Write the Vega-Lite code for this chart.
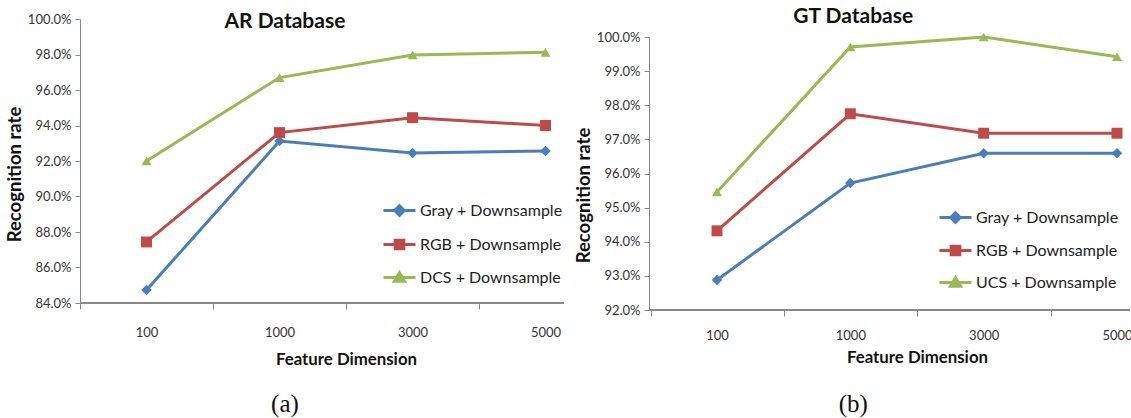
{
  "$schema": "https://vega.github.io/schema/vega-lite/v6.json",
  "padding": {"left": 5, "top": 6, "right": 0, "bottom": 0},
  "background": "white",
  "config": {
    "view": {"stroke": null},
    "font": "Lato",
    "axis": {"labelFont": "Lato", "labelFontSize": 13, "labelColor": "#333333", "titleFont": "Lato", "titleFontWeight": "bold", "titleFontSize": 16.8, "titleColor": "#111111", "domainColor": "#888888", "tickColor": "#888888", "grid": false, "labelOverlap": false},
    "axisY": {"titleFontSize": 18.5}
  },
  "datasets": {
    "ar": [
      {"dim": "100", "series": "Gray + Downsample", "rate": 0.8473},
      {"dim": "1000", "series": "Gray + Downsample", "rate": 0.9312},
      {"dim": "3000", "series": "Gray + Downsample", "rate": 0.9245},
      {"dim": "5000", "series": "Gray + Downsample", "rate": 0.9256},
      {"dim": "100", "series": "RGB + Downsample", "rate": 0.8744},
      {"dim": "1000", "series": "RGB + Downsample", "rate": 0.9360},
      {"dim": "3000", "series": "RGB + Downsample", "rate": 0.9444},
      {"dim": "5000", "series": "RGB + Downsample", "rate": 0.9400},
      {"dim": "100", "series": "DCS + Downsample", "rate": 0.9200},
      {"dim": "1000", "series": "DCS + Downsample", "rate": 0.9670},
      {"dim": "3000", "series": "DCS + Downsample", "rate": 0.9797},
      {"dim": "5000", "series": "DCS + Downsample", "rate": 0.9812}
    ],
    "gt": [
      {"dim": "100", "series": "Gray + Downsample", "rate": 0.9288},
      {"dim": "1000", "series": "Gray + Downsample", "rate": 0.9572},
      {"dim": "3000", "series": "Gray + Downsample", "rate": 0.9659},
      {"dim": "5000", "series": "Gray + Downsample", "rate": 0.9659},
      {"dim": "100", "series": "RGB + Downsample", "rate": 0.9432},
      {"dim": "1000", "series": "RGB + Downsample", "rate": 0.9775},
      {"dim": "3000", "series": "RGB + Downsample", "rate": 0.9718},
      {"dim": "5000", "series": "RGB + Downsample", "rate": 0.9718},
      {"dim": "100", "series": "UCS + Downsample", "rate": 0.9546},
      {"dim": "1000", "series": "UCS + Downsample", "rate": 0.9971},
      {"dim": "3000", "series": "UCS + Downsample", "rate": 1.0},
      {"dim": "5000", "series": "UCS + Downsample", "rate": 0.9942}
    ]
  },
  "resolve": {"scale": {"color": "independent"}, "legend": {"color": "independent"}},
  "spacing": 9,
  "hconcat": [
    {
      "title": {"text": "(a)", "orient": "bottom", "font": "Liberation Serif", "fontSize": 25, "fontWeight": "normal", "color": "#111111", "offset": 24, "anchor": "middle", "frame": "bounds"},
      "vconcat": [
        {
          "title": {"text": "AR Database", "font": "Lato", "fontSize": 21, "fontWeight": "bold", "color": "#111111", "anchor": "middle", "frame": "bounds", "offset": -19},
          "width": 484,
          "height": 284,
          "data": {"name": "ar"},
          "encoding": {
            "x": {"field": "dim", "type": "ordinal", "sort": ["100", "1000", "3000", "5000"], "scale": {"type": "point", "range": [66.5, 465.5], "padding": 0},
              "axis": {"title": "Feature Dimension", "labelAngle": 0, "domain": false, "tickOffset": -66.5, "labelOffset": 66.5, "tickSize": 6, "labelPadding": 17, "titlePadding": 12}},
            "y": {"field": "rate", "type": "quantitative", "scale": {"domain": [0.84, 1.0], "nice": false, "zero": false},
              "axis": {"title": "Recognition rate", "format": ".1%", "values": [0.84, 0.86, 0.88, 0.9, 0.92, 0.94, 0.96, 0.98, 1.0], "tickSize": 5, "labelPadding": 4, "titlePadding": 3, "titleY": 155}}
          },
          "layer": [
            {
              "mark": {"type": "rule", "color": "#888888", "strokeWidth": 1},
              "encoding": {"x": null, "y": {"datum": 0.84, "type": "quantitative"}}
            },
            {
              "mark": {"type": "line", "strokeWidth": 3},
              "encoding": {
                "color": {"field": "series", "type": "nominal", "sort": ["Gray + Downsample", "RGB + Downsample", "DCS + Downsample"], "scale": {"domain": ["Gray + Downsample", "RGB + Downsample", "DCS + Downsample"], "range": ["#4A7EBB", "#BE4B48", "#98B954"]},
                  "legend": {"orient": "none", "legendX": 302, "legendY": 174, "title": null, "symbolSize": 1024, "labelFontSize": 16, "labelFont": "Lato", "labelColor": "#222222", "labelOffset": 3, "rowPadding": 5,
                    "encode": {"symbols": {"update": {
                      "shape": {"signal": "datum.value === 'Gray + Downsample' ? 'M-1,0L1,0M0,-0.3L0.3,0L0,0.3L-0.3,0Z' : datum.value === 'RGB + Downsample' ? 'M-1,0L1,0M-0.27,-0.27L0.27,-0.27L0.27,0.27L-0.27,0.27Z' : 'M-1,0L1,0M0,-0.3L0.32,0.24L-0.32,0.24Z'"},
                      "stroke": {"signal": "datum.value === 'Gray + Downsample' ? '#4A7EBB' : datum.value === 'RGB + Downsample' ? '#BE4B48' : '#98B954'"},
                      "fill": {"signal": "datum.value === 'Gray + Downsample' ? '#4A7EBB' : datum.value === 'RGB + Downsample' ? '#BE4B48' : '#98B954'"},
                      "strokeWidth": {"value": 3},
                      "opacity": {"value": 1}
                    }}}}}
              }
            },
            {
              "transform": [{"filter": "datum.series === 'Gray + Downsample'"}],
              "mark": {"type": "point", "filled": true, "opacity": 1, "size": 110, "shape": "diamond", "color": "#4A7EBB"}
            },
            {
              "transform": [{"filter": "datum.series === 'RGB + Downsample'"}],
              "mark": {"type": "point", "filled": true, "opacity": 1, "size": 120, "shape": "square", "color": "#BE4B48"}
            },
            {
              "transform": [{"filter": "datum.series === 'DCS + Downsample'"}],
              "mark": {"type": "point", "filled": true, "opacity": 1, "size": 100, "shape": "triangle-up", "color": "#98B954"}
            }
          ]
        }
      ]
    },
    {
      "title": {"text": "(b)", "orient": "bottom", "font": "Liberation Serif", "fontSize": 25, "fontWeight": "normal", "color": "#111111", "offset": 26, "anchor": "middle", "frame": "bounds"},
      "vconcat": [
        {
          "title": {"text": "GT Database", "font": "Lato", "fontSize": 21, "fontWeight": "bold", "color": "#111111", "anchor": "middle", "frame": "bounds", "offset": -8},
          "width": 481,
          "height": 291,
          "data": {"name": "gt"},
          "encoding": {
            "x": {"field": "dim", "type": "ordinal", "sort": ["100", "1000", "3000", "5000"], "scale": {"type": "point", "range": [68, 468], "padding": 0},
              "axis": {"title": "Feature Dimension", "labelAngle": 0, "domain": false, "tickOffset": -66.5, "labelOffset": 66.5, "tickSize": 6, "labelPadding": 13, "titlePadding": 7}},
            "y": {"field": "rate", "type": "quantitative", "scale": {"domain": [0.92, 1.0], "nice": false, "zero": false, "range": [291, 18]},
              "axis": {"title": "Recognition rate", "format": ".1%", "values": [0.92, 0.93, 0.94, 0.95, 0.96, 0.97, 0.98, 0.99, 1.0], "tickSize": 5, "labelPadding": 4, "titlePadding": 3, "titleY": 176}}
          },
          "layer": [
            {
              "mark": {"type": "rule", "color": "#888888", "strokeWidth": 1},
              "encoding": {"x": null, "y": {"datum": 0.92, "type": "quantitative"}}
            },
            {
              "mark": {"type": "line", "strokeWidth": 3},
              "encoding": {
                "color": {"field": "series", "type": "nominal", "sort": ["Gray + Downsample", "RGB + Downsample", "UCS + Downsample"], "scale": {"domain": ["Gray + Downsample", "RGB + Downsample", "UCS + Downsample"], "range": ["#4A7EBB", "#BE4B48", "#98B954"]},
                  "legend": {"orient": "none", "legendX": 289, "legendY": 181, "title": null, "symbolSize": 1024, "labelFontSize": 16, "labelFont": "Lato", "labelColor": "#222222", "labelOffset": 3, "rowPadding": 4,
                    "encode": {"symbols": {"update": {
                      "shape": {"signal": "datum.value === 'Gray + Downsample' ? 'M-1,0L1,0M0,-0.3L0.3,0L0,0.3L-0.3,0Z' : datum.value === 'RGB + Downsample' ? 'M-1,0L1,0M-0.27,-0.27L0.27,-0.27L0.27,0.27L-0.27,0.27Z' : 'M-1,0L1,0M0,-0.3L0.32,0.24L-0.32,0.24Z'"},
                      "stroke": {"signal": "datum.value === 'Gray + Downsample' ? '#4A7EBB' : datum.value === 'RGB + Downsample' ? '#BE4B48' : '#98B954'"},
                      "fill": {"signal": "datum.value === 'Gray + Downsample' ? '#4A7EBB' : datum.value === 'RGB + Downsample' ? '#BE4B48' : '#98B954'"},
                      "strokeWidth": {"value": 3},
                      "opacity": {"value": 1}
                    }}}}}
              }
            },
            {
              "transform": [{"filter": "datum.series === 'Gray + Downsample'"}],
              "mark": {"type": "point", "filled": true, "opacity": 1, "size": 110, "shape": "diamond", "color": "#4A7EBB"}
            },
            {
              "transform": [{"filter": "datum.series === 'RGB + Downsample'"}],
              "mark": {"type": "point", "filled": true, "opacity": 1, "size": 120, "shape": "square", "color": "#BE4B48"}
            },
            {
              "transform": [{"filter": "datum.series === 'UCS + Downsample'"}],
              "mark": {"type": "point", "filled": true, "opacity": 1, "size": 100, "shape": "triangle-up", "color": "#98B954"}
            }
          ]
        }
      ]
    }
  ]
}
